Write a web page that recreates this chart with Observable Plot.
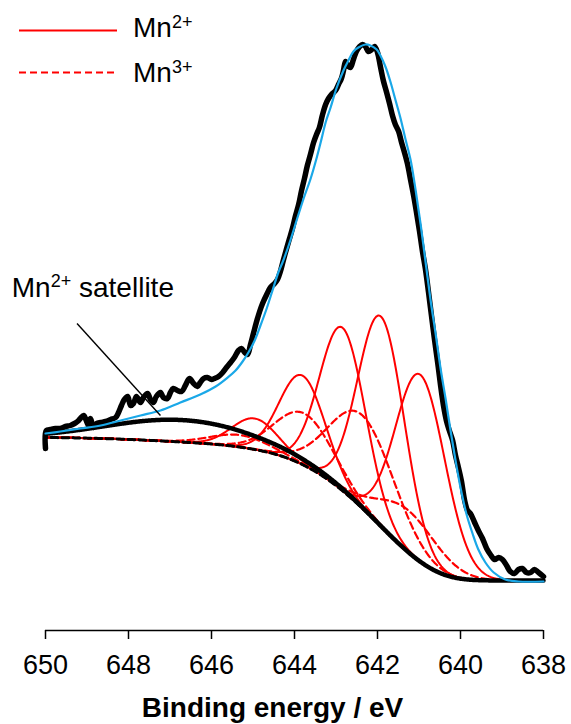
<!DOCTYPE html>
<html><head><meta charset="utf-8">
<script src="https://cdn.jsdelivr.net/npm/d3@7"></script>
<script src="https://cdn.jsdelivr.net/npm/@observablehq/plot@0.6"></script>
<style>
body{margin:0;background:#fff;font-family:"Liberation Sans",Arial,sans-serif}
#chart{width:571px;height:724px}
</style></head><body><div id="chart"></div>
<script>
// ---- measured spectrum (binding energy eV, intensity a.u.) ----
const rawE = [650.00,649.98,649.88,649.76,649.64,649.52,649.40,649.30,649.23,649.16,649.08,649.01,648.96,648.92,648.84,648.77,648.67,648.55,648.43,648.31,648.24,648.17,648.10,648.02,647.95,647.88,647.81,647.71,647.64,647.54,647.47,647.40,647.33,647.23,647.16,647.06,646.99,646.92,646.82,646.72,646.63,646.53,646.43,646.34,646.27,646.19,646.10,646.00,645.93,645.83,645.73,645.64,645.54,645.45,645.35,645.28,645.20,645.13,645.06,644.99,644.92,644.84,644.77,644.67,644.58,644.48,644.41,644.34,644.27,644.19,644.12,644.05,643.98,643.90,643.83,643.76,643.69,643.61,643.54,643.47,643.40,643.33,643.25,643.18,643.11,643.01,642.94,642.87,642.82,642.77,642.70,642.65,642.58,642.51,642.43,642.36,642.29,642.22,642.14,642.07,642.00,641.93,641.86,641.78,641.71,641.64,641.57,641.49,641.42,641.35,641.28,641.20,641.13,641.06,640.99,640.92,640.84,640.77,640.70,640.63,640.55,640.48,640.41,640.34,640.27,640.19,640.12,640.05,639.98,639.90,639.83,639.76,639.66,639.57,639.47,639.37,639.28,639.18,639.08,638.99,638.89,638.80,638.70,638.60,638.51,638.41,638.31,638.22,638.12,638.00];
const rawI = [132,150,151,152,152,154,155,157,159,162,165,159,155,162,153,157,158,159,161,163,168,175,181,184,175,177,184,178,183,187,181,178,184,188,183,182,188,192,190,189,195,202,197,194,198,202,203,201,202,204,208,213,218,223,230,232,228,226,236,247,258,269,277,286,293,297,301,309,320,332,342,352,364,376,390,402,415,427,438,446,453,465,476,482,486,490,496,502,510,519,514,513,521,529,534,536,534,529,531,534,528,514,500,488,477,465,456,449,438,428,417,400,385,368,350,330,310,288,265,242,218,195,175,160,150,140,125,113,100,80,70,67,58,50,42,32,26,21,23,21,15,9,7,11,12,8,8,11,8,4];
// ---- fitted envelope ----
const envE = [650.00,649.64,649.16,648.67,648.19,647.71,647.23,646.75,646.27,645.90,645.61,645.42,645.25,645.11,644.96,644.82,644.67,644.53,644.39,644.27,644.10,643.95,643.78,643.61,643.47,643.37,643.25,643.13,642.99,642.82,642.70,642.58,642.46,642.29,642.17,642.02,641.93,641.81,641.69,641.57,641.45,641.33,641.20,641.08,640.96,640.84,640.72,640.60,640.48,640.36,640.24,640.12,640.00,639.86,639.71,639.57,639.40,639.20,638.92,638.60,638.00];
const envI = [147,149,152,155,160,165,170,178,186,194,203,210,219,228,240,255,272,290,308,320,340,360,382,402,422,438,458,473,492,510,520,529,533,536,535,531,525,514,499,481,463,442,420,390,356,318,280,247,212,182,150,120,93,67,47,31,18,8,1,-1,-1];
// ---- fitted components (centre eV, height a.u., sigma eV) ----
const mn2Center = [644.95, 643.81, 642.84, 641.91, 640.97];
const mn2Height = [31, 89, 163, 210, 187];
const mn2Sigma  = [0.55, 0.55, 0.55, 0.56, 0.60];
const mn3Center = [645.30, 643.76, 642.36, 641.25];
const mn3Height = [12, 52, 93, 42];
const mn3Sigma  = [0.70, 0.70, 0.78, 0.72];
const satCenter = [646.7];
const satHeight = [22];
const satSigma  = [1.75];
const bgEnds = [143, 0]; // background at 650 eV and 638 eV
const xTicks = [650, 648, 646, 644, 642, 640, 638];
const legendLabels = ["Mn", "Mn"];
const legendSups = ["2+", "3+"];
const satLabel = {E: 650.8, I: 283, E1: 649.24, I1: 257, E2: 647.23, I2: 165};

// ---- build component curves on a Shirley background ----
const gauss = (E, c, h, s) => h * Math.exp(-((E - c) ** 2) / (2 * s * s));
const step = 0.02;
const grid = d3.range(0, 601).map(i => +(638 + i * step).toFixed(2));
const mn2 = mn2Center.map((c, i) => ({c, h: mn2Height[i], s: mn2Sigma[i]}));
const mn3 = mn3Center.map((c, i) => ({c, h: mn3Height[i], s: mn3Sigma[i]}));
const sat = satCenter.map((c, i) => ({c, h: satHeight[i], s: satSigma[i]}));
const all = [...mn2, ...mn3, ...sat];
const tot = grid.map(E => all.reduce((a, p) => a + gauss(E, p.c, p.h, p.s), 0));
const cum = [0];
for (let i = 1; i < grid.length; i++) cum.push(cum[i - 1] + (tot[i] + tot[i - 1]) / 2 * step);
const bg = grid.map((E, i) => bgEnds[1] + (bgEnds[0] - bgEnds[1]) * cum[i] / cum[cum.length - 1]);
const curveRows = (p, id) => grid.map((E, i) => ({E, I: bg[i] + gauss(E, p.c, p.h, p.s), id}));
const mn2Rows = mn2.flatMap((p, k) => curveRows(p, "a" + k));
const mn3Rows = mn3.flatMap((p, k) => curveRows(p, "b" + k));
const satRows = curveRows(sat[0], "s");
const bgRows = grid.map((E, i) => ({E, I: bg[i]}));
const raw = rawE.map((E, i) => ({E, I: rawI[i]}));
const env = envE.map((E, i) => ({E, I: envI[i]}));

const RED = "#ff0000";
const chart = Plot.plot({
  width: 571, height: 724,
  marginLeft: 45, marginRight: 28, marginTop: 0, marginBottom: 94,
  style: {fontFamily: "Liberation Sans, Arial, sans-serif", fontSize: "27px", background: "#fff", overflow: "visible"},
  x: {domain: [650, 638], label: null},
  y: {domain: [-50, 580], axis: null},
  marks: [
    Plot.line(mn3Rows, {x: "E", y: "I", z: "id", stroke: RED, strokeWidth: 2.2, strokeDasharray: "7,4"}),
    Plot.line(mn2Rows, {x: "E", y: "I", z: "id", stroke: RED, strokeWidth: 2}),
    Plot.line(bgRows, {x: "E", y: "I", stroke: "#000", strokeWidth: 3, strokeDasharray: "7,4"}),
    Plot.line(satRows, {x: "E", y: "I", stroke: "#000", strokeWidth: 4.5}),
    Plot.line(raw, {x: "E", y: "I", stroke: "#000", strokeWidth: 5.5, curve: "catmull-rom", strokeLinejoin: "round", strokeLinecap: "round"}),
    Plot.line(env, {x: "E", y: "I", stroke: "#1aa8e8", strokeWidth: 2.2, curve: "catmull-rom"}),
    Plot.link([satLabel], {x1: "E1", y1: "I1", x2: "E2", y2: "I2", stroke: "#000", strokeWidth: 1.4}),
    Plot.ruleY([-50], {stroke: "#000", strokeWidth: 1.5}),
    Plot.axisX({ticks: xTicks, tickSize: 9, tickPadding: 15, strokeWidth: 1.5, fontSize: 27, tickFormat: d => String(d), label: null}),
    Plot.text(["Binding energy / eV"], {frameAnchor: "bottom", dy: 86, dx: -22, fontWeight: "bold", fontSize: 28})
  ]
});
document.getElementById("chart").appendChild(chart);

// legend and annotation label with superscripts
const svg = d3.select(chart);
const xs = chart.scale("x"), ys = chart.scale("y");
const lg = svg.append("g").attr("font-size", 28).attr("fill", "#000").attr("text-anchor", "start");
[[30.5, null], [72.5, "7,4"]].forEach(([y, dash], i) => {
  lg.append("line").attr("x1", 19).attr("x2", 117).attr("y1", y).attr("y2", y)
    .attr("stroke", RED).attr("stroke-width", 2.2).attr("stroke-dasharray", dash);
  const t = lg.append("text").attr("x", 133).attr("y", y + 6 + (i ? 3 : 0)).attr("text-anchor", "start");
  t.append("tspan").text(legendLabels[i]);
  t.append("tspan").attr("font-size", 18).attr("dy", -9).text(legendSups[i]);
});
const at = svg.append("text").attr("x", xs.apply(satLabel.E)).attr("y", ys.apply(satLabel.I))
  .attr("font-size", 28).attr("fill", "#000").attr("text-anchor", "start");
at.append("tspan").text("Mn");
at.append("tspan").attr("font-size", 18).attr("dy", -10).text("2+");
at.append("tspan").attr("dy", 10).text(" satellite");
</script></body></html>
